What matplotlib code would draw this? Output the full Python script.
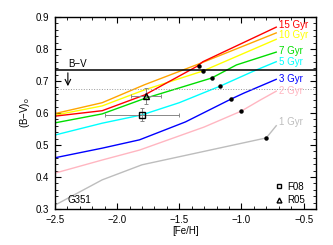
import matplotlib
matplotlib.use('Agg')
import matplotlib.pyplot as plt
from matplotlib.lines import Line2D
from matplotlib.ticker import MultipleLocator

plt.rcParams['font.family'] = 'Liberation Sans'
plt.rcParams['font.size'] = 7
plt.rcParams['mathtext.fontset'] = 'custom'
plt.rcParams['mathtext.rm'] = 'Liberation Sans'
plt.rcParams['mathtext.it'] = 'Liberation Sans'

# isochrone colours vs [Fe/H]
x_15 = [-2.5, -2.12, -1.78, -1.36, -1.31, -0.72]
y_15 = [0.590, 0.607, 0.656, 0.745, 0.760, 0.868]
x_12 = [-2.5, -2.12, -1.78, -1.35, -0.72]
y_12 = [0.598, 0.632, 0.688, 0.752, 0.850]
x_10 = [-2.5, -2.12, -1.78, -1.31, -0.72]
y_10 = [0.593, 0.622, 0.672, 0.731, 0.830]
x_7 = [-2.5, -2.12, -1.78, -1.24, -1.04, -0.72]
y_7 = [0.569, 0.597, 0.645, 0.709, 0.750, 0.790]
x_5 = [-2.5, -2.12, -1.80, -1.50, -1.17, -0.90, -0.72]
y_5 = [0.531, 0.568, 0.594, 0.632, 0.684, 0.731, 0.760]
x_3 = [-2.5, -2.12, -1.82, -1.45, -1.08, -0.98, -0.72]
y_3 = [0.460, 0.490, 0.516, 0.572, 0.644, 0.662, 0.705]
x_2 = [-2.5, -2.12, -1.82, -1.30, -1.00, -0.85, -0.72]
y_2 = [0.412, 0.453, 0.484, 0.556, 0.606, 0.640, 0.668]
x_1 = [-2.5, -2.12, -1.80, -0.80, -0.72]
y_1 = [0.312, 0.391, 0.438, 0.522, 0.560]

dot_x = [-1.34, -1.31, -1.24, -1.17, -1.08, -1.00, -0.80]
dot_y = [0.747, 0.731, 0.709, 0.684, 0.644, 0.606, 0.522]

# observations
f08_x, f08_y, f08_xerr, f08_yerr = -1.80, 0.594, 0.30, 0.02
r05_x, r05_y, r05_xerr, r05_yerr = -1.77, 0.653, 0.12, 0.025

bv_line = 0.734
bv_dotted = 0.675

curves = [
    (x_1, y_1, '#bdbdbd', '1 Gyr', 0.572),
    (x_2, y_2, '#ffb6c1', '2 Gyr', 0.670),
    (x_3, y_3, '#0000ff', '3 Gyr', 0.705),
    (x_5, y_5, '#00ffff', '5 Gyr', 0.760),
    (x_7, y_7, '#00dd00', '7 Gyr', 0.795),
    (x_10, y_10, '#ffff00', '10 Gyr', 0.843),
    (x_12, y_12, '#ffa500', None, None),
    (x_15, y_15, '#ff0000', '15 Gyr', 0.874),
]

fig = plt.figure(figsize=(3.33, 2.45), dpi=100)
ax = fig.add_axes([0.165, 0.147, 0.784, 0.784])

for xs, ys, c, lab, ly in curves:
    ax.plot(xs, ys, color=c, lw=1.0)
    if lab:
        ax.text(-0.695, ly, lab, color=c, fontsize=7, va='center', ha='left')

ax.plot(dot_x, dot_y, 'o', color='black', ms=2.2, zorder=5)

ax.axhline(bv_line, color='black', lw=1.1)
ax.axhline(bv_dotted, color='#999999', lw=0.7, ls=':')
ax.annotate('', xy=(-2.396, bv_dotted), xytext=(-2.396, bv_line),
            arrowprops=dict(arrowstyle='->', color='black', lw=0.8, mutation_scale=10))
ax.text(-2.39, bv_line + 0.004, 'B−V', fontsize=7, va='bottom', ha='left')

ax.errorbar(f08_x, f08_y, xerr=f08_xerr, yerr=f08_yerr, fmt='none',
            ecolor='#888888', elinewidth=0.7, capsize=1.5, capthick=0.7)
ax.errorbar(r05_x, r05_y, xerr=r05_xerr, yerr=r05_yerr, fmt='none',
            ecolor='#888888', elinewidth=0.7, capsize=1.5, capthick=0.7)
ax.plot(f08_x, f08_y, 's', mfc='none', mec='black', mew=1.0, ms=4, zorder=6)
ax.plot(r05_x, r05_y, '^', mfc='none', mec='black', mew=1.0, ms=4, zorder=6)

ax.text(-2.40, 0.328, 'G351', fontsize=7, va='center', ha='left')

handles = [Line2D([], [], marker='s', ls='none', mfc='none', mec='black', mew=1.0, ms=3.5),
           Line2D([], [], marker='^', ls='none', mfc='none', mec='black', mew=1.0, ms=3.5)]
ax.legend(handles, ['F08', 'R05'], loc='lower right', frameon=False, fontsize=7,
          handlelength=1.0, handletextpad=0.4, labelspacing=0.35,
          borderaxespad=0.3, bbox_to_anchor=(0.985, -0.015))

ax.set_xlim(-2.5, -0.4)
ax.set_ylim(0.3, 0.9)
ax.xaxis.set_major_locator(MultipleLocator(0.5))
ax.xaxis.set_minor_locator(MultipleLocator(0.1))
ax.yaxis.set_major_locator(MultipleLocator(0.1))
ax.yaxis.set_minor_locator(MultipleLocator(0.02))
ax.tick_params(which='both', direction='in', top=True, right=True)
ax.tick_params(which='major', length=4, width=0.8, pad=4)
ax.tick_params(which='minor', length=2, width=0.6)
ax.set_xticks([-2.5, -2.0, -1.5, -1.0, -0.5])
ax.set_xticklabels(['−2.5', '−2.0', '−1.5', '−1.0', '−0.5'])
ax.set_yticklabels(['%.1f' % v for v in ax.get_yticks()])
for s in ax.spines.values():
    s.set_linewidth(1.0)

ax.set_xlabel('[Fe/H]', labelpad=1)
ax.set_ylabel('(B−V)$_{\\rm o}$', labelpad=3)

fig.savefig('out.png', dpi=100)
